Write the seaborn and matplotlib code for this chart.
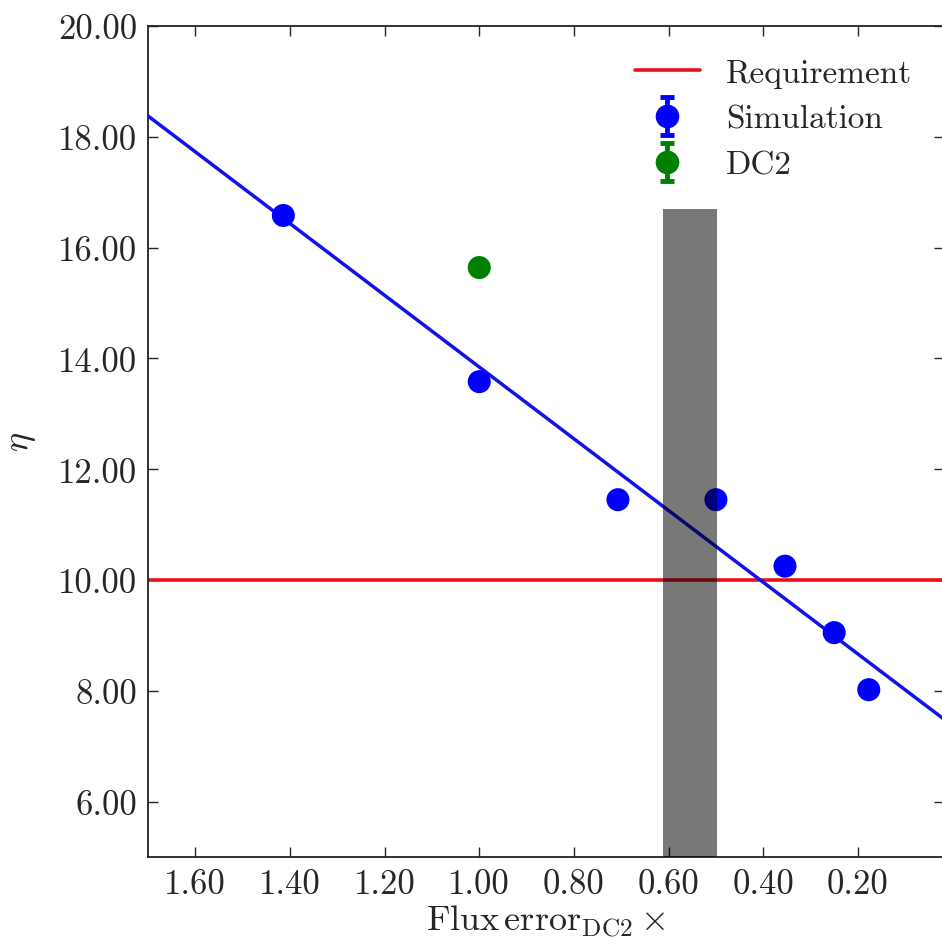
import numpy as np
import pandas as pd
import matplotlib
matplotlib.use("Agg")
import matplotlib.pyplot as plt
import seaborn as sns
from matplotlib.ticker import FixedLocator, FuncFormatter
from matplotlib.legend_handler import HandlerErrorbar
from matplotlib.container import ErrorbarContainer

# ---- data ----
sim_x = [1.414, 1.00, 0.707, 0.50, 0.354, 0.25, 0.177]
sim_y = [16.58, 13.58, 11.45, 11.45, 10.25, 9.05, 8.02]
dc2_x = [1.00]
dc2_y = [15.64]
requirement = 10.0
fit_x = [1.75, 0.0]
fit_y = [18.70, 7.37]
band_x = [0.497, 0.612]
band_top = 16.7
band_bottom = 5.0
xticks = [1.60, 1.40, 1.20, 1.00, 0.80, 0.60, 0.40, 0.20]
yticks = [6, 8, 10, 12, 14, 16, 18, 20]

sns.set_style("ticks")
plt.rcParams["font.family"] = ["cmr10", "DejaVu Serif"]
plt.rcParams["mathtext.fontset"] = "cm"
plt.rcParams["axes.formatter.use_mathtext"] = True
plt.rcParams["axes.unicode_minus"] = False

fig = plt.figure(figsize=(9.42, 9.45), dpi=100)
ax = fig.add_axes([148 / 942, 87 / 945, 796 / 942, 831 / 945])

df_sim = pd.DataFrame({"x": sim_x, "y": sim_y})
df_dc2 = pd.DataFrame({"x": dc2_x, "y": dc2_y})
df_fit = pd.DataFrame({"x": fit_x, "y": fit_y})

ax.axhline(requirement, color="#e8101a", lw=2.6, zorder=2)
sns.lineplot(data=df_fit, x="x", y="y", ax=ax, color="#1212e6", lw=2.5, zorder=3, legend=False)
sns.scatterplot(data=df_sim, x="x", y="y", ax=ax, color="blue", s=275, edgecolor="none", zorder=4, legend=False)
sns.scatterplot(data=df_dc2, x="x", y="y", ax=ax, color="green", s=275, edgecolor="none", zorder=4, legend=False)
ax.fill_between(band_x, [band_bottom] * 2, [band_top] * 2, color="black", alpha=0.53, lw=0, zorder=5)

# legend handles (errorbar style)
h_req, = ax.plot([], [], color="#e8101a", lw=2.6)
h_sim = ax.errorbar([np.nan], [np.nan], yerr=[0.1], fmt="o", color="blue", ms=16,
                    capsize=5, elinewidth=3.5, capthick=3.5)
h_dc2 = ax.errorbar([np.nan], [np.nan], yerr=[0.1], fmt="o", color="green", ms=16,
                    capsize=5, elinewidth=3.5, capthick=3.5)
leg = ax.legend([h_req, h_sim, h_dc2], ["Requirement", "Simulation", "DC2"],
                loc="upper right", frameon=False, fontsize=24, numpoints=1,
                handlelength=1.95, handletextpad=0.8, labelspacing=0.5,
                bbox_to_anchor=(0.998, 0.997),
                handler_map={ErrorbarContainer: HandlerErrorbar(yerr_size=0.58, numpoints=1)})

ax.set_xlim(1.70, 0.018)
ax.set_ylim(5, 20)
ax.xaxis.set_major_locator(FixedLocator(xticks))
ax.yaxis.set_major_locator(FixedLocator(yticks))
fmt = FuncFormatter(lambda v, p: f"{v:.2f}")
ax.xaxis.set_major_formatter(fmt)
ax.yaxis.set_major_formatter(fmt)
ax.tick_params(direction="in", length=7, width=1, labelsize=25, top=True, right=True, pad=8)
for s in ax.spines.values():
    s.set_linewidth(1.3)
    s.set_color("#222222")
ax.set_xlabel(r"$\mathrm{Flux\,error}_{\mathrm{DC2}}\times$", fontsize=26, labelpad=2)
ax.set_ylabel(r"$\eta$", fontsize=26, labelpad=14)

fig.savefig("out.png", dpi=100)
